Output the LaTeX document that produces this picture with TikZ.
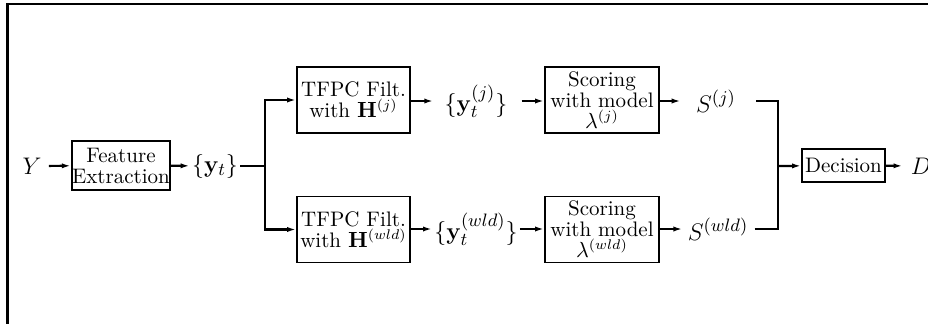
\documentclass[tikz,border=0pt]{standalone}
\usetikzlibrary{arrows.meta}
\begin{document}
\begin{tikzpicture}[x=0.5pt, y=-0.5pt,
    blk/.style={draw, rectangle, line width=0.9pt, inner sep=0pt, align=center,
                font=\fontsize{10.5}{10.5}\selectfont},
    lbl/.style={inner sep=1pt, font=\fontsize{13}{15}\selectfont},
    conn/.style={line width=1.1pt, -{Latex[length=4.5pt,width=2.6pt]}},
    wire/.style={line width=1.1pt}]
    \useasboundingbox (0,0) rectangle (928,323);
    % frame
    \draw[line width=1.3pt] (7.5,330) -- (7.5,4) -- (935,4);

    \node[lbl] (Y) at (32,166) {$Y$};
    \node[blk, line width=1.2pt, minimum width=49pt, minimum height=24.5pt] (feat) at (121,165.5) {Feature\\Extraction};
    \node[lbl] (yt) at (215,166) {$\{\mathbf{y}_t\}$};
    \coordinate (split) at (265,166);

    \node[blk, minimum width=56.5pt, minimum height=33pt] (filtj) at (353.5,100) {TFPC Filt.\\with $\mathbf{H}^{(j)}$};
    \node[blk, minimum width=56.5pt, minimum height=33pt] (filtw) at (353.5,229.5) {TFPC Filt.\\with $\mathbf{H}^{(wld)}$};
    \node[lbl] (ytj) at (476,101) {$\{\mathbf{y}_t^{(j)}\}$};
    \node[lbl] (ytw) at (476,229) {$\{\mathbf{y}_t^{(wld)}\}$};
    \node[blk, minimum width=57pt, minimum height=33pt] (scorej) at (602,100) {Scoring\\with model\\$\lambda^{(j)}$};
    \node[blk, minimum width=57pt, minimum height=33pt] (scorew) at (602,229.5) {Scoring\\with model\\$\lambda^{(wld)}$};
    \node[lbl] (Sj) at (716,101) {$S^{(j)}$};
    \node[lbl] (Sw) at (718,229) {$S^{(wld)}$};
    \coordinate (merge) at (778,166);
    \node[blk, minimum width=41.5pt, minimum height=16.5pt] (dec) at (843.5,165.5) {Decision};
    \node[lbl] (D) at (921,166) {$D$};

    \draw[conn, shorten <=2.5pt] (Y) -- (feat);
    \draw[conn] (feat) -- (yt);
    \draw[conn] (yt) -- (split) |- (filtj.west);
    \draw[conn] (split) |- (filtw.west);
    \draw[conn, shorten >=4.5pt] (filtj.east |- ytj) -- (ytj);
    \draw[conn, shorten <=6pt] (ytj) -- (scorej.west |- ytj);
    \draw[conn] (filtw.east |- ytw) -- (ytw);
    \draw[conn] (ytw) -- (scorew.west |- ytw);
    \draw[conn, shorten >=6.5pt] (scorej.east |- Sj) -- (Sj);
    \draw[conn, shorten >=1.5pt] (scorew.east |- Sw) -- (Sw);
    \draw[wire, shorten <=9pt] (Sj) -| (merge);
    \draw[wire, shorten <=2pt] (Sw) -| (merge);
    \draw[conn] (merge) -- (dec);
    \draw[conn, shorten >=3pt] (dec) -- (D);
\end{tikzpicture}
\end{document}
